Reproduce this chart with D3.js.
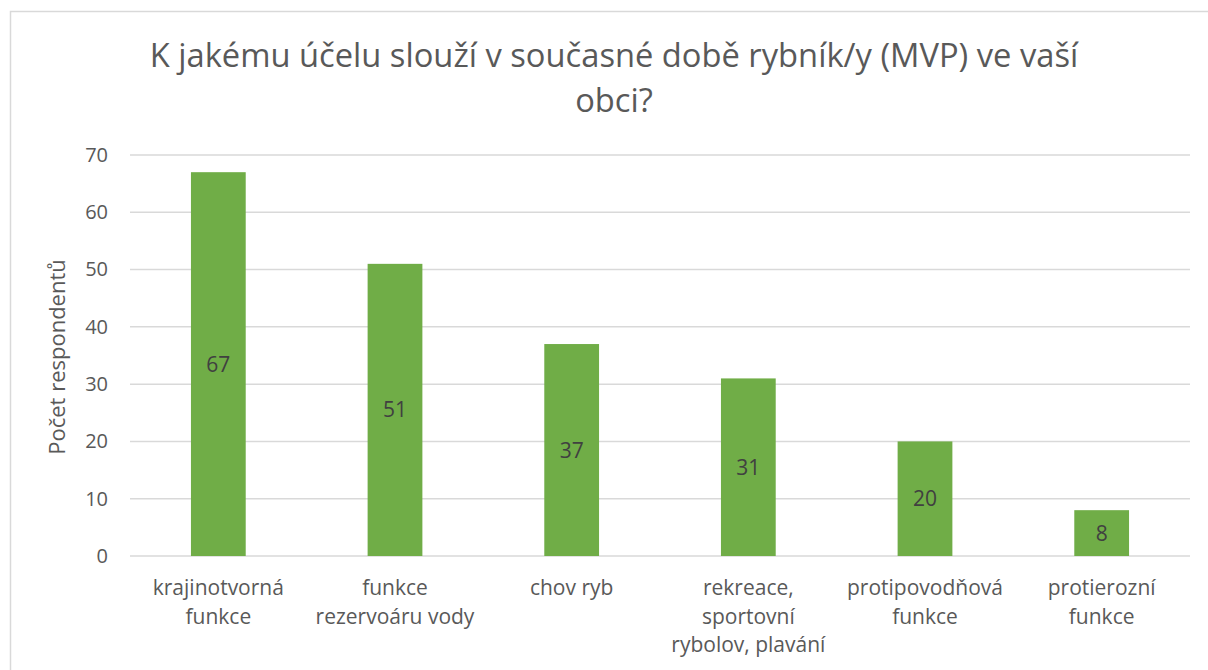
<!DOCTYPE html>
<html><head><meta charset="utf-8">
<script src="https://cdn.jsdelivr.net/npm/d3@7"></script>
<style>body{margin:0;background:#fff;} svg{display:block;font-family:"Open Sans",Lato,sans-serif;}</style>
</head><body>
<svg id="c" width="1208" height="670"></svg>
<script>
const categories = [["krajinotvorná","funkce"],["funkce","rezervoáru vody"],["chov ryb"],["rekreace,","sportovní","rybolov, plavání"],["protipovodňová","funkce"],["protierozní","funkce"]];
const values = [67, 51, 37, 31, 20, 8];
const yTicks = [0,10,20,30,40,50,60,70];
const titleLines = ["K jakému účelu slouží v současné době rybník/y (MVP) ve vaší","obci?"];
const yTitle = "Počet respondentů";

(function(){
const FONT = "'Open Sans',Lato,sans-serif";
const svg = d3.select("#c");
svg.append("rect").attr("x",10.5).attr("y",11.5).attr("width",1250).attr("height",700)
  .attr("fill","#fff").attr("stroke","#d9d9d9").attr("stroke-width",1.5);

const pl=130, pr=1190, pt=155, pb=556;
const x = d3.scaleBand().domain(d3.range(values.length)).range([pl,pr]).paddingInner(0.69).paddingOuter(0.345);
const y = d3.scaleLinear().domain([0,70]).range([pb,pt]);

const g = svg.append("g");
g.selectAll("line.grid").data(yTicks).join("line").attr("class","grid")
  .attr("x1",pl).attr("x2",pr).attr("y1",d=>y(d)).attr("y2",d=>y(d))
  .attr("stroke","#d9d9d9").attr("stroke-width",1.5);

const yAxis = d3.axisLeft(y).tickValues(yTicks).tickSize(0).tickPadding(0);
const ya = svg.append("g").attr("transform",`translate(${pl-22},0)`).call(yAxis);
ya.select(".domain").remove();
ya.selectAll("text").attr("font-size",20).attr("fill","#595959").attr("font-family",FONT);

g.selectAll("rect.bar").data(values).join("rect").attr("class","bar")
  .attr("x",(d,i)=>x(i)).attr("width",x.bandwidth())
  .attr("y",d=>y(d)).attr("height",d=>y(0)-y(d)).attr("fill","#70ad47");

g.selectAll("text.lbl").data(values).join("text").attr("class","lbl")
  .attr("x",(d,i)=>x(i)+x.bandwidth()/2).attr("y",d=>(y(d)+y(0))/2)
  .attr("dy","0.36em").attr("text-anchor","middle").attr("font-size",21).attr("fill","#404040").text(d=>d);

const xa = svg.append("g");
categories.forEach((lines,i)=>{
  const t = xa.append("text").attr("text-anchor","middle").attr("font-size",21).attr("fill","#595959");
  lines.forEach((l,j)=>{
    t.append("tspan").attr("x",x(i)+x.bandwidth()/2).attr("y",595+j*28.5).text(l);
  });
});

svg.append("text").attr("transform",`translate(65,357) rotate(-90)`)
  .attr("text-anchor","middle").attr("font-size",22).attr("fill","#595959").text(yTitle);

const tt = svg.append("text").attr("text-anchor","middle").attr("font-size",32.7).attr("fill","#595959");
titleLines.forEach((l,j)=>{
  tt.append("tspan").attr("x",614).attr("y",67+j*45).text(l);
});
})();
</script>
</body></html>
